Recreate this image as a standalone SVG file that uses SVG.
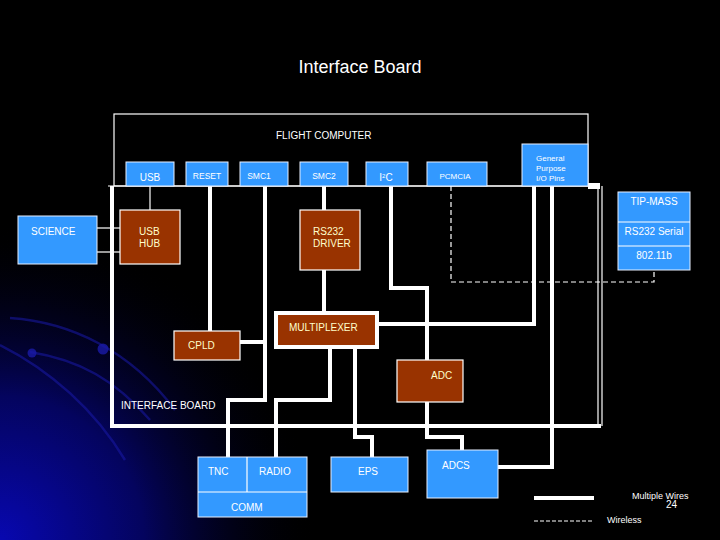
<svg xmlns="http://www.w3.org/2000/svg" width="720" height="540" viewBox="0 0 720 540">
<defs>
<radialGradient id="glow" cx="0" cy="540" r="320" gradientUnits="userSpaceOnUse">
<stop offset="0" stop-color="#0808b0"/>
<stop offset="0.45" stop-color="#04045e"/>
<stop offset="1" stop-color="#000000" stop-opacity="0"/>
</radialGradient>
<style>
.t{font-family:"Liberation Sans",Arial,sans-serif;fill:#ffffff;font-size:10px}
.s{font-size:8.5px}
.c{text-anchor:middle}
.cr{fill:#ffffcc}
.blue{fill:#3399ff;stroke:#e8f0ff;stroke-width:1}
.brown{fill:#993300;stroke:#ffffff;stroke-width:1.2}
.thick{fill:none;stroke:#ffffff;stroke-width:4}
.thin{fill:none;stroke:#ffffff;stroke-width:1.2}
.dash{fill:none;stroke:#ffffff;stroke-width:1.2;stroke-dasharray:5 3}
.arc{fill:none;stroke:#1a1aa8;stroke-width:2.5;opacity:0.55}
</style>
</defs>
<rect width="720" height="540" fill="#000"/>
<rect width="720" height="540" fill="url(#glow)"/>
<g id="decor">
<path class="arc" d="M10 318 C70 322 130 350 175 410"/>
<path class="arc" d="M30 352 C80 360 115 380 150 420"/>
<path class="arc" d="M0 345 C50 370 95 410 125 460"/>
<circle cx="32" cy="353" r="4.5" fill="#1a1aa8" opacity="0.8"/>
<circle cx="103" cy="349" r="5.5" fill="#1a1aa8" opacity="0.8"/>
</g>
<text class="t c" x="360" y="73" style="font-size:18px">Interface Board</text>

<g id="frame">
<rect x="114" y="114" width="474" height="72" fill="none" stroke="#fff" stroke-width="1.2"/>
<line class="thin" x1="108" y1="186" x2="600" y2="186"/>
<rect x="588" y="183" width="12" height="6" fill="#fff"/>
<line class="thick" x1="112" y1="186" x2="112" y2="428"/>
<line class="thick" x1="110" y1="426" x2="601" y2="426"/>
<line class="thin" x1="598" y1="186" x2="598" y2="426"/>
<line class="thin" x1="602" y1="186" x2="602" y2="426"/>
<text class="t" x="276" y="139">FLIGHT COMPUTER</text>
<text class="t" x="121" y="409">INTERFACE BOARD</text>
</g>

<g id="connectors">
<line class="thin" x1="150" y1="186" x2="150" y2="210"/>
<line class="thick" x1="210" y1="186" x2="210" y2="331"/>
<polyline class="thick" points="265,186 265,400 228,400 228,457"/>
<line class="thick" x1="240" y1="342" x2="265" y2="342"/>
<line class="thick" x1="324" y1="186" x2="324" y2="210"/>
<line class="thick" x1="324" y1="270" x2="324" y2="311"/>
<polyline class="thick" points="391,186 391,288 427,288 427,360"/>
<polyline class="thick" points="427,402 427,437 462,437 462,450"/>
<polyline class="thick" points="534,186 534,324 379,324"/>
<polyline class="thick" points="552,186 552,467 498,467"/>
<polyline class="thick" points="330,349 330,400 276,400 276,457"/>
<polyline class="thick" points="355,349 355,437 372,437 372,457"/>
<polyline class="dash" points="451,186 451,282 654,282 654,270"/>
<line class="thin" x1="97" y1="228" x2="120" y2="228"/>
<line class="thin" x1="97" y1="252" x2="120" y2="252"/>
</g>

<g id="usb"><rect class="blue" x="126" y="162" width="48" height="24"/><text class="t c" x="150" y="181">USB</text></g>
<g id="reset"><rect class="blue" x="186" y="162" width="42" height="24"/><text class="t s c" x="207" y="179">RESET</text></g>
<g id="smc1"><rect class="blue" x="240" y="162" width="48" height="24"/><text class="t s c" x="259" y="179">SMC1</text></g>
<g id="smc2"><rect class="blue" x="300" y="162" width="48" height="24"/><text class="t s c" x="324" y="179">SMC2</text></g>
<g id="i2c"><rect class="blue" x="366" y="162" width="42" height="24"/><text class="t c" x="386" y="181">I<tspan dy="-3" style="font-size:6px">2</tspan><tspan dy="3">C</tspan></text></g>
<g id="pcmcia"><rect class="blue" x="427" y="162" width="60" height="24"/><text class="t c" x="455" y="179" style="font-size:8px">PCMCIA</text></g>
<g id="gpio"><rect class="blue" x="522" y="144" width="66" height="42"/>
<text class="t" x="536" y="161" style="font-size:8px">General</text>
<text class="t" x="536" y="171" style="font-size:8px">Purpose</text>
<text class="t" x="536" y="181" style="font-size:8px">I/O Pins</text></g>

<g id="tipmass"><rect class="blue" x="618" y="192" width="72" height="78"/>
<line class="thin" x1="618" y1="222" x2="690" y2="222"/>
<line class="thin" x1="618" y1="246" x2="690" y2="246"/>
<text class="t c" x="654" y="205">TIP-MASS</text>
<text class="t c" x="654" y="235">RS232 Serial</text>
<text class="t c" x="654" y="259">802.11b</text></g>

<g id="science"><rect class="blue" x="18" y="216" width="79" height="48"/><text class="t" x="31" y="235">SCIENCE</text></g>
<g id="usbhub"><rect class="brown" x="120" y="210" width="60" height="54"/><text class="t cr" x="139" y="235">USB</text><text class="t cr" x="139" y="247">HUB</text></g>
<g id="rs232"><rect class="brown" x="300" y="210" width="60" height="60"/><text class="t cr" x="313" y="235">RS232</text><text class="t cr" x="313" y="247">DRIVER</text></g>
<g id="mux"><rect x="276" y="313" width="101" height="34" fill="#993300" stroke="#fff" stroke-width="4"/><text class="t cr" x="289" y="331">MULTIPLEXER</text></g>
<g id="cpld"><rect class="brown" x="174" y="331" width="66" height="29"/><text class="t cr" x="188" y="349">CPLD</text></g>
<g id="adc"><rect class="brown" x="397" y="360" width="66" height="42"/><text class="t cr" x="431" y="379">ADC</text></g>

<g id="comm"><rect class="blue" x="198" y="457" width="109" height="60"/>
<line class="thin" x1="198" y1="492" x2="307" y2="492"/>
<line class="thin" x1="247" y1="457" x2="247" y2="492"/>
<text class="t" x="208" y="475">TNC</text>
<text class="t" x="259" y="475">RADIO</text>
<text class="t" x="231" y="511">COMM</text></g>
<g id="eps"><rect class="blue" x="331" y="457" width="77" height="35"/><text class="t" x="358" y="475">EPS</text></g>
<g id="adcs"><rect class="blue" x="427" y="450" width="71" height="48"/><text class="t" x="442" y="469">ADCS</text></g>

<g id="legend">
<line class="thick" x1="534" y1="498" x2="594" y2="498"/>
<line class="dash" x1="534" y1="521" x2="594" y2="521" style="stroke-dasharray:4 2"/>
<text class="t" x="632" y="499" style="font-size:9px">Multiple Wires</text>
<text class="t" x="666" y="508">24</text>
<text class="t" x="607" y="523" style="font-size:9px">Wireless</text>
</g>
</svg>
